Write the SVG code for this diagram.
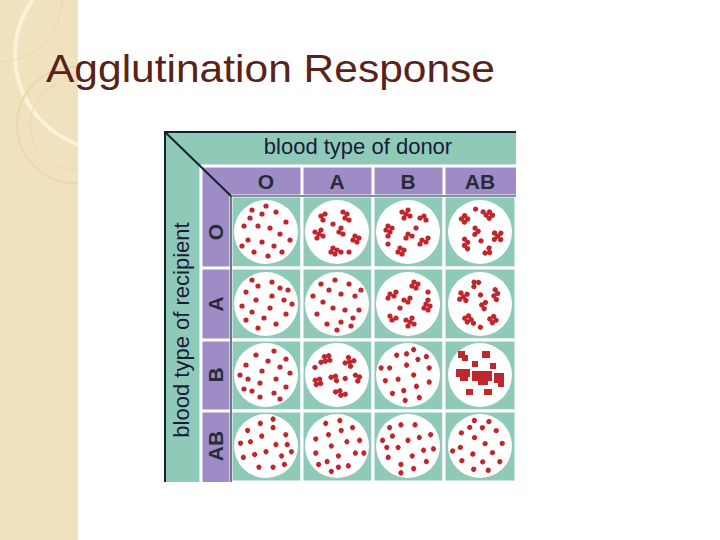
<svg xmlns="http://www.w3.org/2000/svg" xmlns:xlink="http://www.w3.org/1999/xlink" width="720" height="540" viewBox="0 0 720 540">
<style>
.hd{font-family:"Liberation Sans",Arial,sans-serif;font-size:22px;fill:#1a1a3a}
.lb{font-family:"Liberation Sans",Arial,sans-serif;font-size:21px;fill:#2a2a3a;font-weight:bold}
.cell{fill:#8fcab8;stroke:#fff;stroke-width:3}
.plate{fill:#fff}
.d{fill:#c0272d}
</style>
<defs>
<clipPath id="sideclip"><rect x="0" y="0" width="78" height="540"/></clipPath>
<g id="sc">
<circle class="d" cx="-14" cy="-22" r="2.6"/><circle class="d" cx="-4" cy="-18" r="2.6"/><circle class="d" cx="10" cy="-20" r="2.6"/><circle class="d" cx="20" cy="-10" r="2.6"/><circle class="d" cx="-22" cy="-6" r="2.6"/><circle class="d" cx="-8" cy="-6" r="2.6"/><circle class="d" cx="4" cy="-4" r="2.6"/><circle class="d" cx="14" cy="2" r="2.6"/><circle class="d" cx="24" cy="8" r="2.6"/><circle class="d" cx="-18" cy="8" r="2.6"/><circle class="d" cx="-4" cy="10" r="2.6"/><circle class="d" cx="8" cy="14" r="2.6"/><circle class="d" cx="-12" cy="20" r="2.6"/><circle class="d" cx="2" cy="24" r="2.6"/><circle class="d" cx="16" cy="20" r="2.6"/><circle class="d" cx="-24" cy="14" r="2.6"/><circle class="d" cx="0" cy="-26" r="2.6"/><circle class="d" cx="-16" cy="-14" r="2.6"/>
</g>
<g id="cl">
<circle class="d" cx="-16" cy="-16" r="2.6"/><circle class="d" cx="-12" cy="-18" r="2.6"/><circle class="d" cx="-14" cy="-12" r="2.6"/>
<circle class="d" cx="6" cy="-20" r="2.6"/><circle class="d" cx="10" cy="-18" r="2.6"/><circle class="d" cx="8" cy="-14" r="2.6"/><circle class="d" cx="12" cy="-12" r="2.6"/>
<circle class="d" cx="-22" cy="0" r="2.6"/><circle class="d" cx="-18" cy="2" r="2.6"/><circle class="d" cx="-20" cy="6" r="2.6"/><circle class="d" cx="-16" cy="-2" r="2.6"/><circle class="d" cx="-14" cy="4" r="2.6"/>
<circle class="d" cx="2" cy="0" r="2.6"/><circle class="d" cx="6" cy="2" r="2.6"/><circle class="d" cx="4" cy="-4" r="2.6"/>
<circle class="d" cx="18" cy="4" r="2.6"/><circle class="d" cx="22" cy="6" r="2.6"/><circle class="d" cx="20" cy="10" r="2.6"/><circle class="d" cx="16" cy="8" r="2.6"/>
<circle class="d" cx="-4" cy="16" r="2.6"/><circle class="d" cx="0" cy="18" r="2.6"/><circle class="d" cx="-2" cy="22" r="2.6"/><circle class="d" cx="4" cy="20" r="2.6"/><circle class="d" cx="-6" cy="20" r="2.6"/>
<circle class="d" cx="-4" cy="-8" r="2.6"/><circle class="d" cx="12" cy="20" r="2.6"/>
</g>
<g id="big">
<rect class="d" x="-22" y="-24" width="7" height="7"/><rect class="d" x="-18" y="-20" width="6" height="6"/>
<rect class="d" x="2" y="-24" width="8" height="7"/>
<rect class="d" x="-24" y="-6" width="14" height="8"/><rect class="d" x="-20" y="0" width="8" height="6"/>
<rect class="d" x="-8" y="-4" width="20" height="10"/><rect class="d" x="-2" y="4" width="10" height="6"/>
<rect class="d" x="14" y="-2" width="10" height="10"/><rect class="d" x="18" y="6" width="6" height="6"/>
<rect class="d" x="-14" y="14" width="7" height="6"/><rect class="d" x="4" y="14" width="8" height="6"/>
<rect class="d" x="-8" y="-14" width="6" height="6"/><rect class="d" x="10" y="-12" width="6" height="6"/>
</g>
</defs>
<rect width="720" height="540" fill="#fff"/>
<g id="side" clip-path="url(#sideclip)">
<rect x="0" y="0" width="78" height="540" fill="#f1e2bf"/>
<circle cx="110" cy="55" r="95" fill="none" stroke="#fbf1d8" stroke-width="4"/>
<circle cx="75" cy="125" r="58" fill="none" stroke="#ead7ab" stroke-width="2"/>
<circle cx="75" cy="125" r="45" fill="none" stroke="#ead7ab" stroke-width="1"/>
<circle cx="0" cy="0" r="62" fill="none" stroke="#ead7ab" stroke-width="1"/>
</g>
<text x="46" y="82" font-family="Liberation Sans,Arial,sans-serif" font-size="38" fill="#5a2318" textLength="449" lengthAdjust="spacingAndGlyphs">Agglutination Response</text>
<g id="table">
<rect x="165" y="132" width="351" height="350" fill="#8fcab8"/>
<rect x="201" y="166" width="315" height="30" fill="#9d8cc6"/>
<rect x="201" y="166" width="30" height="316" fill="#9d8cc6"/>
<g stroke="#fff" stroke-width="3">
<line x1="201" y1="166" x2="516" y2="166"/><line x1="201" y1="166" x2="201" y2="482"/>
<line x1="302" y1="166" x2="302" y2="196"/><line x1="373" y1="166" x2="373" y2="196"/><line x1="444" y1="166" x2="444" y2="196"/>
<line x1="201" y1="268" x2="231" y2="268"/><line x1="201" y1="340" x2="231" y2="340"/><line x1="201" y1="411" x2="231" y2="411"/>
</g>
<text class="hd" x="358" y="154" text-anchor="middle">blood type of donor</text>
<text class="hd" transform="translate(189,330) rotate(-90)" text-anchor="middle">blood type of recipient</text>
<text class="lb" x="266" y="189" text-anchor="middle">O</text><text class="lb" x="337" y="189" text-anchor="middle">A</text><text class="lb" x="408" y="189" text-anchor="middle">B</text><text class="lb" x="480" y="189" text-anchor="middle">AB</text>
<text class="lb" transform="translate(223,232) rotate(-90)" text-anchor="middle">O</text>
<text class="lb" transform="translate(223,304) rotate(-90)" text-anchor="middle">A</text>
<text class="lb" transform="translate(223,375) rotate(-90)" text-anchor="middle">B</text>
<text class="lb" transform="translate(223,446) rotate(-90)" text-anchor="middle">AB</text>
<g id="cells">
<rect class="cell" x="231" y="196" width="71" height="72"/><rect class="cell" x="302" y="196" width="71" height="72"/><rect class="cell" x="373" y="196" width="71" height="72"/><rect class="cell" x="444" y="196" width="72" height="72"/>
<rect class="cell" x="231" y="268" width="71" height="72"/><rect class="cell" x="302" y="268" width="71" height="72"/><rect class="cell" x="373" y="268" width="71" height="72"/><rect class="cell" x="444" y="268" width="72" height="72"/>
<rect class="cell" x="231" y="340" width="71" height="71"/><rect class="cell" x="302" y="340" width="71" height="71"/><rect class="cell" x="373" y="340" width="71" height="71"/><rect class="cell" x="444" y="340" width="72" height="71"/>
<rect class="cell" x="231" y="411" width="71" height="71"/><rect class="cell" x="302" y="411" width="71" height="71"/><rect class="cell" x="373" y="411" width="71" height="71"/><rect class="cell" x="444" y="411" width="72" height="71"/>
</g>
<g id="plates">
<circle class="plate" cx="266" cy="232" r="32"/><circle class="plate" cx="337" cy="232" r="32"/><circle class="plate" cx="408" cy="232" r="32"/><circle class="plate" cx="480" cy="232" r="32"/>
<circle class="plate" cx="266" cy="304" r="32"/><circle class="plate" cx="337" cy="304" r="32"/><circle class="plate" cx="408" cy="304" r="32"/><circle class="plate" cx="480" cy="304" r="32"/>
<circle class="plate" cx="266" cy="375" r="32"/><circle class="plate" cx="337" cy="375" r="32"/><circle class="plate" cx="408" cy="375" r="32"/><circle class="plate" cx="480" cy="375" r="32"/>
<circle class="plate" cx="266" cy="446" r="32"/><circle class="plate" cx="337" cy="446" r="32"/><circle class="plate" cx="408" cy="446" r="32"/><circle class="plate" cx="480" cy="446" r="32"/>
</g>
<g id="dots">
<use xlink:href="#sc" transform="translate(266,232)"/>
<use xlink:href="#cl" transform="translate(337,232)"/>
<use xlink:href="#cl" transform="translate(408,232) rotate(90)"/>
<use xlink:href="#cl" transform="translate(480,232) rotate(200)"/>
<use xlink:href="#sc" transform="translate(266,304) rotate(90)"/>
<use xlink:href="#sc" transform="translate(337,304) rotate(180)"/>
<use xlink:href="#cl" transform="translate(408,304) rotate(270)"/>
<use xlink:href="#cl" transform="translate(480,304) rotate(30)"/>
<use xlink:href="#sc" transform="translate(266,375) rotate(270)"/>
<use xlink:href="#cl" transform="translate(337,375) rotate(140)"/>
<use xlink:href="#sc" transform="translate(408,375) rotate(45)"/>
<use xlink:href="#big" transform="translate(480,375)"/>
<use xlink:href="#sc" transform="translate(266,446) rotate(135)"/>
<use xlink:href="#sc" transform="translate(337,446) rotate(225)"/>
<use xlink:href="#sc" transform="translate(408,446) rotate(315)"/>
<use xlink:href="#sc" transform="translate(480,446) rotate(20)"/>
</g>
<g stroke="#123" stroke-width="2" fill="none">
<polyline points="165,482 165,132 516,132"/>
<line x1="165" y1="132" x2="231" y2="196"/>
<polyline points="231,482 231,196 516,196" stroke-width="1.2"/>
</g>
</g>
</svg>
